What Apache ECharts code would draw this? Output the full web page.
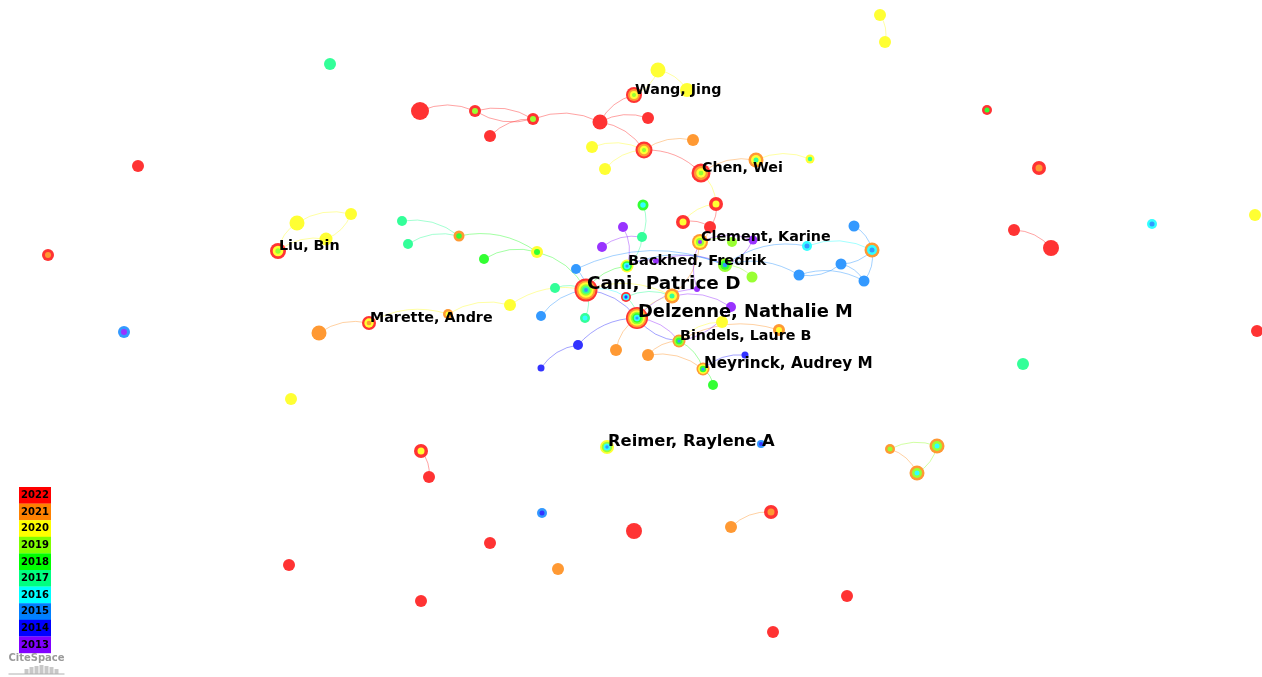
<!DOCTYPE html>
<html>
<head>
<meta charset="utf-8">
<title>CiteSpace co-author network</title>
<script src="https://cdn.jsdelivr.net/npm/echarts@6/dist/echarts.min.js"></script>
<style>
  html, body { margin: 0; padding: 0; background: #fff; }
  #chart { width: 1262px; height: 677px; }
</style>
</head>
<body>
<div id="chart"></div>
<script>
/* ---------- 年份切片（CiteSpace 色環）---------- */
const YEARS = [2022, 2021, 2020, 2019, 2018, 2017, 2016, 2015, 2014, 2013];
const LEGEND_COLORS = ['#ff0000', '#ff8000', '#ffff00', '#80ff00', '#00ff00', '#00ff80', '#00ffff', '#0080ff', '#0000ff', '#8000ff'];
const RING_COLORS = ['#ff3333', '#ff9933', '#ffff33', '#99ff33', '#33ff33', '#33ff99', '#33ffff', '#3399ff', '#3333ff', '#9933ff'];

/* ---------- 節點：[id, x, y, 頻次, 年輪(外→內, 年份後兩位)] ---------- */
const northNodes = [
  ['n1', 880, 15, 6, '20'],
  ['n2', 885, 42, 6, '20'],
  ['n3', 330, 64, 6, '17'],
  ['n4', 658, 70, 7.5, '20'],
  ['n5', 687, 90, 7, '20'],
  ['wang', 634, 95, 8, '22 21 20 19'],
  ['n7', 420, 111, 9, '22'],
  ['n8', 475, 111, 6, '22 19'],
  ['n9', 533, 119, 6, '22 19'],
  ['n10', 490, 136, 6, '22'],
  ['n11', 600, 122, 7.5, '22'],
  ['n12', 648, 118, 6, '22'],
  ['n13', 644, 150, 8.5, '22 21 20 19'],
  ['n14', 693, 140, 6, '21'],
  ['n15', 592, 147, 6, '20'],
  ['n16', 605, 169, 6, '20'],
  ['chen', 701, 173, 9.5, '22 21 20 19'],
  ['n18', 756, 160, 7.5, '21 20 17'],
  ['n19', 810, 159, 4.5, '20 17'],
  ['n20', 716, 204, 7, '22 20'],
  ['n21', 683, 222, 7, '22 20'],
  ['n22', 710, 227, 6, '22']
];

const coreNodes = [
  ['clement', 700, 242, 8, '21 20 19 13'],
  ['c24', 753, 240, 4.5, '13'],
  ['c25', 732, 242, 5, '19'],
  ['c26', 725, 265, 7, '19 18 15'],
  ['c27', 752, 277, 5.5, '19'],
  ['c28', 807, 246, 5, '16 15'],
  ['c29', 854, 226, 5.5, '15'],
  ['c30', 872, 250, 7.5, '21 16 15'],
  ['c31', 841, 264, 5.5, '15'],
  ['c32', 799, 275, 5.5, '15'],
  ['c33', 864, 281, 5.5, '15'],
  ['cani', 586, 290, 11.5, '22 21 20 19 17 15'],
  ['c35', 626, 297, 5, '22 16 14'],
  ['c36', 672, 296, 7.5, '21 20 17'],
  ['delzenne', 637, 318, 11, '22 21 20 19 18 16 15'],
  ['backhed', 627, 266, 6.5, '20 18 16 15'],
  ['c39', 643, 205, 5.5, '18 16'],
  ['c40', 623, 227, 5, '13'],
  ['c41', 642, 237, 5, '17'],
  ['c42', 602, 247, 5, '13'],
  ['c43', 576, 269, 5, '15'],
  ['c44', 555, 288, 5, '17'],
  ['c45', 541, 316, 5, '15'],
  ['c46', 585, 318, 5, '17 16'],
  ['c47', 731, 307, 5, '13'],
  ['c48', 697, 289, 3, '13'],
  ['c49', 656, 261, 3, '13'],
  ['c50', 722, 322, 6, '20'],
  ['c51', 779, 330, 6, '21 20'],
  ['bindels', 679, 341, 6.5, '21 19 18 15'],
  ['c53', 578, 345, 5, '14'],
  ['c54', 541, 368, 3.5, '14'],
  ['c55', 616, 350, 6, '21'],
  ['c56', 648, 355, 6, '21'],
  ['neyrinck', 703, 369, 6.5, '21 20 18 15'],
  ['c58', 745, 355, 3.5, '14'],
  ['c59', 713, 385, 5, '18']
];

const westNodes = [
  ['w60', 537, 252, 6, '20 18'],
  ['w61', 459, 236, 5.5, '21 18'],
  ['w62', 402, 221, 5, '17'],
  ['w63', 408, 244, 5, '17'],
  ['w64', 484, 259, 5, '18'],
  ['w65', 297, 223, 7.5, '20'],
  ['w66', 351, 214, 6, '20'],
  ['w67', 326, 239, 6.5, '20'],
  ['liu', 278, 251, 8, '22 20 19'],
  ['w69', 319, 333, 7.5, '21'],
  ['marette', 369, 323, 7, '22 20 21'],
  ['w71', 448, 314, 5, '21 20'],
  ['w72', 510, 305, 6, '20']
];

const outlierNodes = [
  ['s73', 138, 166, 6, '22'],
  ['s74', 48, 255, 6, '22 21'],
  ['s75', 124, 332, 6, '15 13'],
  ['s76', 291, 399, 6, '20'],
  ['s77', 987, 110, 5, '22 18'],
  ['s78', 1039, 168, 7, '22 21'],
  ['s79', 1014, 230, 6, '22'],
  ['s80', 1051, 248, 8, '22'],
  ['s81', 1152, 224, 5, '16 15'],
  ['s82', 1255, 215, 6, '20'],
  ['s83', 1257, 331, 6, '22'],
  ['s84', 1023, 364, 6, '17'],
  ['reimer', 607, 447, 7, '20 19 16 15'],
  ['s86', 761, 444, 4, '15 14'],
  ['s87', 890, 449, 5, '21 19'],
  ['s88', 937, 446, 7.5, '21 19 16'],
  ['s89', 917, 473, 7.5, '21 19 16'],
  ['s90', 421, 451, 7, '22 20'],
  ['s91', 429, 477, 6, '22'],
  ['s92', 542, 513, 5, '15 14'],
  ['s93', 634, 531, 8, '22'],
  ['s94', 490, 543, 6, '22'],
  ['s95', 558, 569, 6, '21'],
  ['s96', 731, 527, 6, '21'],
  ['s97', 771, 512, 7, '22 21'],
  ['s98', 289, 565, 6, '22'],
  ['s99', 421, 601, 6, '22'],
  ['s100', 847, 596, 6, '22'],
  ['s101', 773, 632, 6, '22']
];

/* ---------- 合作連線：[起點, 終點, 首次合作年份] ---------- */
const northLinks = [
  ['n1', 'n2', 20], ['n4', 'wang', 20], ['n4', 'n5', 20],
  ['n7', 'n8', 22], ['n8', 'n9', 22], ['n8', 'n9', 22], ['n10', 'n9', 22],
  ['n9', 'n11', 22], ['n11', 'wang', 22], ['n11', 'n12', 22], ['n11', 'n13', 22],
  ['n13', 'chen', 22], ['n13', 'n14', 21], ['n15', 'n13', 20], ['n16', 'n13', 20],
  ['chen', 'n18', 21], ['n18', 'n19', 20], ['chen', 'n20', 20], ['n21', 'n20', 20],
  ['n21', 'n22', 22], ['n20', 'n22', 22], ['n22', 'clement', 21]
];

const coreLinks = [
  ['clement', 'c24', 13], ['clement', 'c25', 19], ['clement', 'c36', 21], ['c48', 'clement', 13],
  ['c26', 'c27', 19], ['c24', 'c26', 13], ['c26', 'c28', 15], ['c26', 'c32', 15],
  ['c28', 'c30', 16], ['c29', 'c30', 15], ['c30', 'c31', 15], ['c31', 'c32', 15],
  ['c30', 'c33', 15], ['c31', 'c33', 15], ['c32', 'c33', 15],
  ['backhed', 'c26', 15], ['c40', 'backhed', 13], ['c41', 'backhed', 17], ['c39', 'c41', 17],
  ['c42', 'c41', 13], ['backhed', 'c49', 13], ['c49', 'c26', 13], ['c43', 'c26', 15],
  ['cani', 'backhed', 18], ['cani', 'delzenne', 14], ['c43', 'cani', 15], ['c44', 'cani', 17],
  ['c45', 'cani', 15], ['cani', 'c46', 17], ['cani', 'c35', 16], ['cani', 'c36', 20],
  ['w60', 'cani', 18], ['w72', 'cani', 20],
  ['delzenne', 'bindels', 13], ['delzenne', 'bindels', 14], ['c35', 'delzenne', 17], ['c53', 'delzenne', 14],
  ['c55', 'delzenne', 21], ['delzenne', 'c36', 20], ['delzenne', 'c48', 13],
  ['c54', 'c53', 14], ['c56', 'bindels', 21], ['bindels', 'neyrinck', 18], ['bindels', 'c50', 20],
  ['bindels', 'c51', 21], ['c47', 'bindels', 13], ['c56', 'neyrinck', 21], ['neyrinck', 'c59', 18],
  ['neyrinck', 'c58', 14], ['c36', 'c47', 13], ['c35', 'c36', 17]
];

const westLinks = [
  ['w62', 'w61', 17], ['w63', 'w61', 17], ['w61', 'w60', 18], ['w64', 'w60', 18],
  ['w65', 'w66', 20], ['w66', 'w67', 20], ['liu', 'w65', 20], ['liu', 'w67', 20],
  ['w69', 'marette', 21], ['marette', 'w71', 20], ['w71', 'w72', 20]
];

const outlierLinks = [
  ['s79', 's80', 22], ['s87', 's88', 19], ['s88', 's89', 19], ['s87', 's89', 21],
  ['s90', 's91', 22], ['s96', 's97', 21]
];

/* ---------- 作者標籤：[節點, 姓名, 發文量] ---------- */
const authorLabels = [
  ['wang', 'Wang, Jing', 7],
  ['chen', 'Chen, Wei', 7],
  ['clement', 'Clement, Karine', 7],
  ['backhed', 'Backhed, Fredrik', 8],
  ['liu', 'Liu, Bin', 7],
  ['cani', 'Cani, Patrice D', 29],
  ['marette', 'Marette, Andre', 7],
  ['delzenne', 'Delzenne, Nathalie M', 26],
  ['bindels', 'Bindels, Laure B', 7],
  ['neyrinck', 'Neyrinck, Audrey M', 12],
  ['reimer', 'Reimer, Raylene A', 18]
];

/* ---------- 組裝 ---------- */
const allNodes = northNodes.concat(coreNodes, westNodes, outlierNodes);
const nodeIndex = new Map(allNodes.map(function (n, i) { return [n[0], i]; }));
const allLinks = northLinks.concat(coreLinks, westLinks, outlierLinks);

function yearColor(yy, alpha) {
  const hex = RING_COLORS[22 - yy];
  if (alpha == null) { return hex; }
  const r = parseInt(hex.slice(1, 3), 16), g = parseInt(hex.slice(3, 5), 16), b = parseInt(hex.slice(5, 7), 16);
  return 'rgba(' + r + ',' + g + ',' + b + ',' + alpha + ')';
}

// 標籤字級隨發文量增大
function labelFontSize(count) { return 13 + count * 0.1875; }

const seenPairs = {};
const linkData = allLinks.filter(function (l) {
  return nodeIndex.has(l[0]) && nodeIndex.has(l[1]);
}).map(function (l) {
  const a = allNodes[nodeIndex.get(l[0])];
  const b = allNodes[nodeIndex.get(l[1])];
  const key = l[0] + '|' + l[1];
  seenPairs[key] = (seenPairs[key] || 0) + 1;
  return {
    coords: [[a[1], a[2]], [b[1], b[2]]],
    lineStyle: { color: yearColor(l[2], 0.45), curveness: seenPairs[key] > 1 ? -0.22 : 0.22 }
  };
});

const nodeData = allNodes.map(function (n) { return [n[1], n[2], n[3]]; });
const nodeRings = allNodes.map(function (n) { return n[4].split(' ').map(Number); });

const labelData = authorLabels.map(function (a) {
  const n = allNodes[nodeIndex.get(a[0])];
  return [n[1], n[2], a[2]];
});

const chart = echarts.init(document.getElementById('chart'));

/* 圖例：年份色塊 */
const legendGraphics = YEARS.map(function (y, i) {
  return {
    type: 'group',
    left: 19, top: 487 + i * 16.6,
    children: [
      { type: 'rect', shape: { x: 0, y: 0, width: 32, height: 16.8 }, style: { fill: LEGEND_COLORS[i] } },
      { type: 'text', x: 16, y: 8.6, style: { text: String(y), fill: '#000', font: 'bold 10px "DejaVu Sans"', align: 'center', verticalAlign: 'middle' } }
    ]
  };
});

/* CiteSpace 標誌 */
const logoBars = [[20, 5], [25, 7], [30, 8], [35, 9], [40, 8], [45, 7], [50, 5]];
const logo = {
  type: 'group', left: 6, top: 653,
  children: [
    { type: 'text', x: 30, y: 7, style: { text: 'CiteSpace', fill: '#9a9a9a', font: 'bold 10px "DejaVu Sans"', align: 'center', verticalAlign: 'middle' } }
  ].concat(logoBars.map(function (b) {
    return { type: 'rect', shape: { x: b[0] - 2, y: 23 - b[1], width: 4, height: b[1] }, style: { fill: '#c8c8c8' } };
  })).concat([
    { type: 'line', shape: { x1: 2, y1: 23, x2: 58, y2: 23 }, style: { stroke: '#b0b0b0', lineWidth: 1 } }
  ])
};

chart.setOption({
  animation: false,
  backgroundColor: '#ffffff',
  grid: { left: 0, right: 0, top: 0, bottom: 0 },
  xAxis: { type: 'value', min: 0, max: 1262, show: false },
  yAxis: { type: 'value', min: 0, max: 677, inverse: true, show: false },
  graphic: legendGraphics.concat([logo]),
  series: [
    {
      type: 'lines',
      coordinateSystem: 'cartesian2d',
      z: 1,
      silent: true,
      lineStyle: { width: 1, opacity: 1 },
      data: linkData
    },
    {
      type: 'custom',
      z: 2,
      silent: true,
      data: nodeData,
      renderItem: function (params, api) {
        const p = api.coord([api.value(0), api.value(1)]);
        const r = api.value(2);
        const rings = nodeRings[params.dataIndex];
        const n = rings.length;
        return {
          type: 'group',
          children: rings.map(function (yy, k) {
            return {
              type: 'circle',
              shape: { cx: p[0], cy: p[1], r: r * (n - k) / n },
              style: { fill: yearColor(yy) }
            };
          })
        };
      }
    },
    {
      type: 'custom',
      z: 3,
      silent: true,
      data: labelData,
      renderItem: function (params, api) {
        const p = api.coord([api.value(0), api.value(1)]);
        const fs = labelFontSize(api.value(2));
        return {
          type: 'text',
          x: p[0] + 1,
          y: p[1] - fs * 0.32,
          style: {
            text: authorLabels[params.dataIndex][1],
            fill: '#000',
            font: 'bold ' + fs + 'px "DejaVu Sans"',
            align: 'left',
            verticalAlign: 'middle'
          }
        };
      }
    }
  ]
});
</script>
</body>
</html>
